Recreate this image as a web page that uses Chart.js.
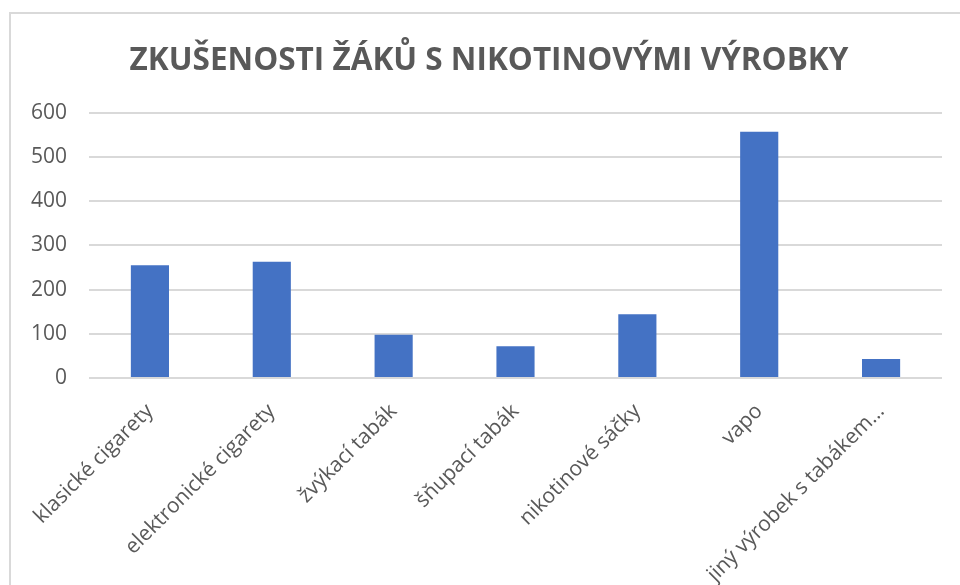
<!DOCTYPE html>
<html>
<head>
<meta charset="utf-8">
<script src="https://cdn.jsdelivr.net/npm/chart.js@4/dist/chart.umd.min.js"></script>
<style>
  html, body { margin: 0; padding: 0; background: #ffffff; }
  #wrap { position: relative; width: 960px; height: 585px; overflow: hidden; }
  canvas { display: block; }
</style>
</head>
<body>
<div id="wrap"><canvas id="c" width="960" height="585"></canvas></div>
<script>
const titleText = "ZKUŠENOSTI ŽÁKŮ S NIKOTINOVÝMI VÝROBKY";
const categories = ["klasické cigarety", "elektronické cigarety", "žvýkací tabák", "šňupací tabák", "nikotinové sáčky", "vapo", "jiný výrobek s tabákem…"];
const values = [255, 263, 98, 72, 144, 557, 43];
const yTicks = [0, 100, 200, 300, 400, 500, 600];

const borderPlugin = {
  id: 'frame',
  beforeDraw(chart) {
    const ctx = chart.ctx;
    ctx.save();
    ctx.fillStyle = '#ffffff';
    ctx.fillRect(0, 0, chart.width, chart.height);
    ctx.strokeStyle = '#d9d9d9';
    ctx.lineWidth = 2;
    ctx.strokeRect(10, 13, chart.width + 20, chart.height + 20);
    ctx.restore();
  }
};

new Chart(document.getElementById('c'), {
  type: 'bar',
  data: {
    labels: categories,
    datasets: [{
      data: values,
      backgroundColor: '#4472C4',
      borderWidth: 0,
      categoryPercentage: 1.0,
      barPercentage: 0.313
    }]
  },
  options: {
    responsive: false,
    animation: false,
    devicePixelRatio: 1,
    layout: { padding: { left: 18, right: 0, top: 0, bottom: 0 } },
    plugins: {
      legend: { display: false },
      tooltip: { enabled: false },
      title: {
        display: true,
        text: titleText,
        color: '#595959',
        font: { family: "'Open Sans', sans-serif", size: 31.5, weight: 'bold' },
        padding: { top: 42, bottom: 33 }
      }
    },
    scales: {
      x: {
        grid: { display: false, drawTicks: false },
        border: { display: false },
        ticks: {
          color: '#595959',
          font: { family: "'Open Sans', sans-serif", size: 21 },
          maxRotation: 45,
          minRotation: 45,
          autoSkip: false,
          padding: 21
        },
        afterFit(scale) { scale.height = 207; }
      },
      y: {
        min: 0,
        max: 600,
        afterBuildTicks(scale) { scale.ticks = yTicks.map(v => ({ value: v })); },
        grid: { color: '#d9d9d9', lineWidth: 2, drawTicks: false },
        border: { display: false },
        ticks: {
          color: '#595959',
          font: { family: "'Open Sans', sans-serif", size: 21 },
          padding: 22
        },
        afterFit(scale) { scale.width = 71; }
      },
      yRight: {
        position: 'right',
        min: 0,
        max: 600,
        grid: { display: false, drawTicks: false },
        border: { display: false },
        ticks: { display: false },
        afterFit(scale) { scale.width = 18; }
      }
    }
  },
  plugins: [borderPlugin]
});
</script>
</body>
</html>
